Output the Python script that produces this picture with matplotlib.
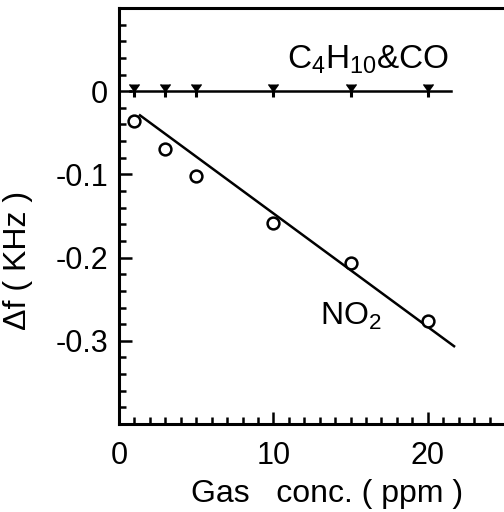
import matplotlib
matplotlib.use("Agg")
import matplotlib.pyplot as plt
from matplotlib.ticker import MultipleLocator, FixedLocator, FixedFormatter

plt.rcParams['font.family'] = ['Liberation Sans', 'DejaVu Sans']
plt.rcParams['mathtext.default'] = 'regular'

# --- data ---
conc = [1, 3, 5, 10, 15, 20]                                # ppm
df_no2 = [-0.036, -0.070, -0.102, -0.159, -0.207, -0.276]  # KHz
df_c4h10_co = [0, 0, 0, 0, 0, 0]                            # KHz

# drawn straight line through the NO2 points (end points)
fit_x = [1.36, 21.7]
fit_y = [-0.029, -0.3065]

# zero line for C4H10 & CO (end points)
zero_x = [0.7, 21.5]
zero_y = [0, 0]

x_ticks = [0, 10, 20]
x_ticklabels = ['0', '10', '20']
y_ticks = [0, -0.1, -0.2, -0.3]
y_ticklabels = ['0', '-0.1', '-0.2', '-0.3']

fig = plt.figure(figsize=(5.04, 5.12), dpi=100)
ax = fig.add_axes([119 / 504, 88 / 512, 386 / 504, 416 / 512])
ax.set_xlim(0, 25)
ax.set_ylim(-0.4, 0.1)

# NO2 line and points
ax.plot(fit_x, fit_y, color='black', lw=1.8)
ax.plot(conc, df_no2, ls='none', marker='o', ms=8.5, mfc='white',
        mec='black', mew=1.8)

# C4H10 & CO: flat line with tick marks
ax.plot(zero_x, zero_y, color='black', lw=1.8)
ax.plot(conc, df_c4h10_co, ls='none', marker=7, ms=7, color='black')
ax.plot(conc, df_c4h10_co, ls='none', marker='|', ms=9, mew=2.2,
        color='black')

ax.text(10.9, 0.027, 'C$_4$H$_{10}$&CO', fontsize=24, ha='left',
        va='baseline')
ax.text(13.0, -0.281, 'NO$_2$', fontsize=23, ha='left', va='baseline')

# axes styling
for side in ['left', 'bottom', 'top']:
    ax.spines[side].set_linewidth(2.2)
ax.spines['right'].set_visible(False)

ax.xaxis.set_major_locator(FixedLocator(x_ticks))
ax.xaxis.set_major_formatter(FixedFormatter(x_ticklabels))
ax.xaxis.set_minor_locator(MultipleLocator(1))
ax.yaxis.set_major_locator(FixedLocator(y_ticks))
ax.yaxis.set_major_formatter(FixedFormatter(y_ticklabels))
ax.yaxis.set_minor_locator(MultipleLocator(0.02))

ax.tick_params(which='both', direction='in', width=1.8, labelsize=22,
               top=False, right=False)
ax.tick_params(which='major', length=9)
ax.tick_params(axis='x', which='major', pad=12)
ax.tick_params(axis='y', which='major', pad=8)
ax.tick_params(which='minor', length=5)

ax.set_xlabel('Gas   conc. ( ppm )', fontsize=23)
ax.set_ylabel('Δf ( KHz )', fontsize=23)
ax.xaxis.set_label_coords(0.539, -0.132)
ax.yaxis.set_label_coords(-0.222, 0.394)

fig.savefig('out.png', dpi=100)
